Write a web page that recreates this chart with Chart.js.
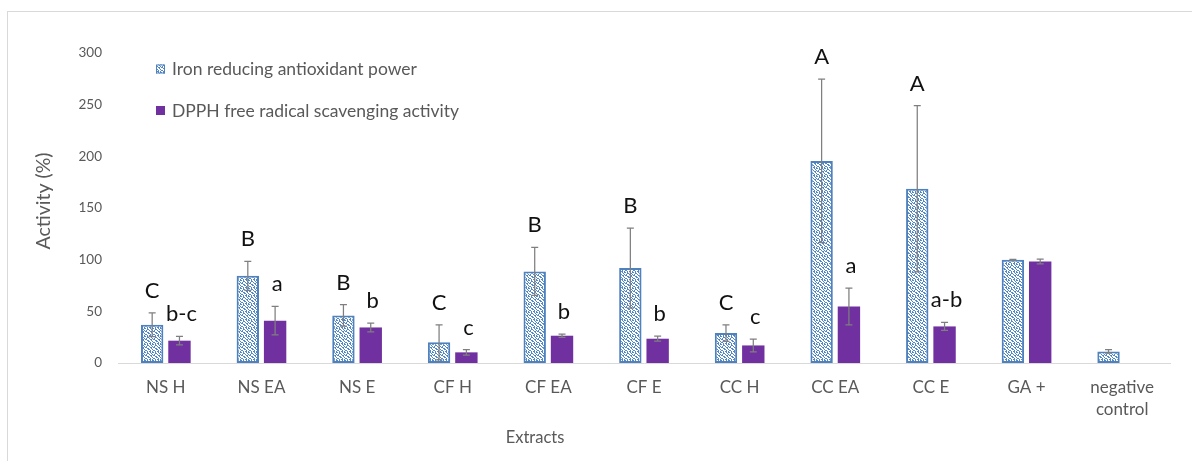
<!DOCTYPE html>
<html lang="en">
<head>
  <meta charset="UTF-8">
  <title>Activity by extract</title>
  <script src="https://cdn.jsdelivr.net/npm/chart.js"></script>
  <style>
    body {
      margin: 0;
      background: #ffffff;
      overflow: hidden;
      font-family: Lato, sans-serif;
    }
    /* marco gris del gráfico */
    .frame {
      position: absolute;
      left: 7px;
      top: 11px;
      width: 1400px;
      height: 700px;
      border: 1px solid #d9d9d9;
    }
    .chart-box {
      position: absolute;
      left: 0;
      top: 0;
      width: 1192px;
      height: 461px;
    }
  </style>
</head>
<body>
  <div class="frame"></div>
  <div class="chart-box">
    <canvas id="activityChart"></canvas>
  </div>

  <script>
    // categories and values
    const extracts = ['NS H', 'NS EA', 'NS E', 'CF H', 'CF EA', 'CF E', 'CC H', 'CC EA', 'CC E', 'GA +', ['negative', 'control']];

    const ironValues = [37, 84.4, 46, 20, 88.6, 91.9, 29, 195.6, 168.6, 99.9, 11.2];
    const ironErrors = [11.4, 14, 10.4, 17, 23.2, 38.7, 8, 79, 80.4, 0.5, 1.7];
    const ironLetters = ['C', 'B', 'B', 'C', 'B', 'B', 'C', 'A', 'A', '', ''];

    const dpphValues = [21.6, 41, 34.4, 10.3, 26.4, 23.5, 17, 54.7, 35.4, 98.3, null];
    const dpphErrors = [4.1, 13.7, 4.3, 2.6, 1.5, 2.4, 6.2, 17.8, 3.9, 2.3, 0];
    const dpphLetters = ['b-c', 'a', 'b', 'c', 'b', 'b', 'c', 'a', 'a-b', '', ''];

    const yTicks = [0, 50, 100, 150, 200, 250, 300];

    const FONT = 'Lato, sans-serif';
    const GREY = '#595959';

    // trama de puntos azules para la primera serie
    function makeDotPattern() {
      const rows = [
        'XX.X..X.',
        '...XX..X',
        'X.X..X..',
        '.XX...XX',
        '...XX..X',
        'X...XX..',
        '.XX...X.',
        'X..X.XX.'
      ];
      const c = document.createElement('canvas');
      c.width = 8;
      c.height = 8;
      const g = c.getContext('2d');
      g.fillStyle = '#ffffff';
      g.fillRect(0, 0, 8, 8);
      g.fillStyle = '#5288c8';
      rows.forEach((r, yy) => {
        for (let xx = 0; xx < r.length; xx++) {
          if (r[xx] === 'X') g.fillRect(xx, yy, 1, 1);
        }
      });
      return g.createPattern(c, 'repeat');
    }

    const errorLetters = [ironLetters, dpphLetters];
    const errorValues = [ironErrors, dpphErrors];

    // barras de error y letras de significancia
    const errorBarPlugin = {
      id: 'errorBars',
      afterDatasetsDraw(chart) {
        const ctx = chart.ctx;
        const y = chart.scales.y;
        chart.data.datasets.forEach((ds, i) => {
          const meta = chart.getDatasetMeta(i);
          meta.data.forEach((bar, j) => {
            const v = ds.data[j];
            if (v === null || v === undefined) return;
            const e = errorValues[i][j];
            const top = y.getPixelForValue(v + e);
            const bot = y.getPixelForValue(Math.max(0, v - e));
            ctx.save();
            ctx.strokeStyle = '#7f7f7f';
            ctx.lineWidth = 1.25;
            ctx.beginPath();
            ctx.moveTo(bar.x, top);
            ctx.lineTo(bar.x, bot);
            ctx.moveTo(bar.x - 3.5, top);
            ctx.lineTo(bar.x + 3.5, top);
            ctx.moveTo(bar.x - 3.5, bot);
            ctx.lineTo(bar.x + 3.5, bot);
            ctx.stroke();
            const letter = errorLetters[i][j];
            if (letter) {
              ctx.fillStyle = '#111111';
              ctx.font = '22px ' + FONT;
              ctx.textAlign = 'center';
              ctx.textBaseline = 'alphabetic';
              ctx.fillText(letter, bar.x + (i === 1 ? 2 : 0), top - 15);
            }
            ctx.restore();
          });
        });
      }
    };

    // leyenda vertical dentro del área y títulos de ejes
    const legendTitlesPlugin = {
      id: 'legendTitles',
      afterDraw(chart) {
        const ctx = chart.ctx;
        const items = [
          { text: chart.data.datasets[0].label, fill: chart.data.datasets[0].backgroundColor, border: '#4f81bd', y: 69.5 },
          { text: chart.data.datasets[1].label, fill: chart.data.datasets[1].backgroundColor, border: null, y: 111 }
        ];
        ctx.save();
        items.forEach(it => {
          ctx.fillStyle = it.fill;
          ctx.fillRect(156, it.y - 5, 9, 9);
          if (it.border) {
            ctx.strokeStyle = it.border;
            ctx.lineWidth = 1;
            ctx.strokeRect(156.5, it.y - 4.5, 8, 8);
          }
          ctx.fillStyle = GREY;
          ctx.font = '17.5px ' + FONT;
          ctx.textAlign = 'left';
          ctx.textBaseline = 'middle';
          ctx.fillText(it.text, 172, it.y);
        });

        ctx.font = '16.5px ' + FONT;
        ctx.fillStyle = GREY;
        ctx.textAlign = 'center';
        ctx.textBaseline = 'middle';
        ctx.fillText('Extracts', 535, 438);

        ctx.font = '19.5px ' + FONT;
        ctx.translate(44, 201);
        ctx.rotate(-Math.PI / 2);
        ctx.fillText('Activity (%)', 0, 0);
        ctx.restore();
      }
    };

    const ctx = document.getElementById('activityChart').getContext('2d');
    new Chart(ctx, {
      type: 'bar',
      data: {
        labels: extracts,
        datasets: [
          {
            label: 'Iron reducing antioxidant power',
            data: ironValues,
            backgroundColor: makeDotPattern(),
            borderColor: '#4f81bd',
            borderWidth: 2,
            borderSkipped: false
          },
          {
            label: 'DPPH free radical scavenging activity',
            data: dpphValues,
            backgroundColor: '#7030a0',
            borderWidth: 0
          }
        ]
      },
      options: {
        responsive: true,
        maintainAspectRatio: false,
        animation: false,
        categoryPercentage: 0.571,
        barPercentage: 0.82,
        layout: {
          padding: { left: 0, right: 22, top: 53, bottom: 0 }
        },
        scales: {
          x: {
            grid: { display: true, drawOnChartArea: false, drawTicks: false },
            border: { display: true, color: '#d9d9d9', width: 1 },
            ticks: {
              color: GREY,
              font: { family: FONT, size: 17, lineHeight: 1.3 },
              padding: 13,
              maxRotation: 0,
              autoSkip: false
            },
            afterFit(scale) { scale.height = 98; }
          },
          y: {
            min: 0,
            max: 300,
            afterBuildTicks(scale) { scale.ticks = yTicks.map(v => ({ value: v })); },
            grid: { display: false, drawTicks: false },
            border: { display: false },
            ticks: {
              color: GREY,
              font: { family: FONT, size: 13.5 },
              padding: 16
            },
            afterFit(scale) { scale.width = 118; }
          }
        },
        plugins: {
          legend: { display: false },
          tooltip: { enabled: false }
        }
      },
      plugins: [errorBarPlugin, legendTitlesPlugin]
    });
  </script>
</body>
</html>
